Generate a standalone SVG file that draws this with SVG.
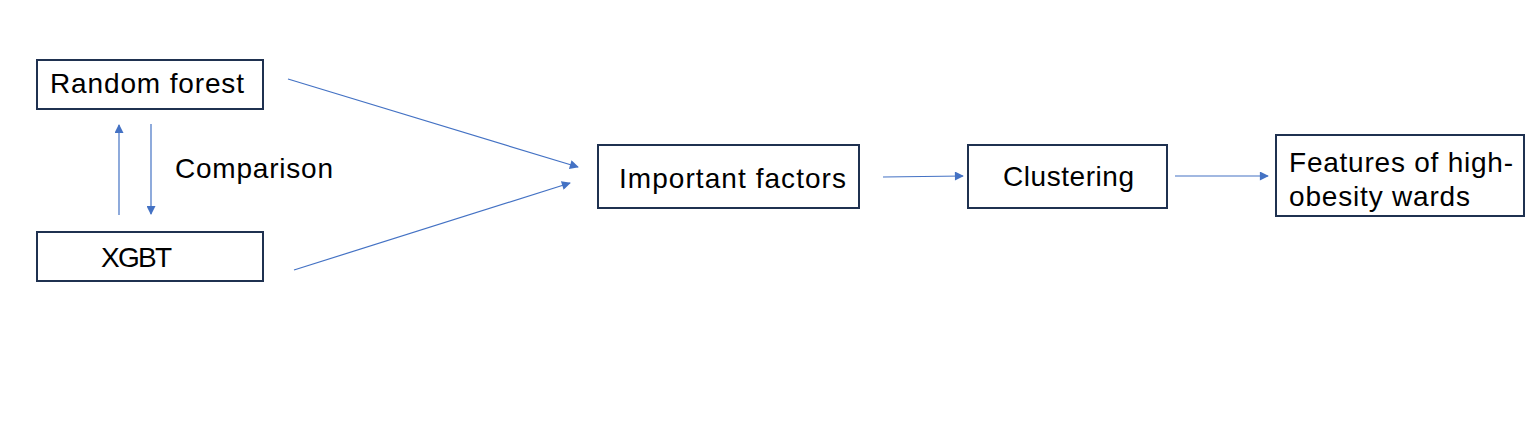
<svg xmlns="http://www.w3.org/2000/svg" width="1539" height="446" viewBox="0 0 1539 446">
<defs>
<style>
.box{fill:#fff;stroke:#1f3150;stroke-width:2}
.lbl{font-family:"Liberation Sans","Noto Sans",sans-serif;font-size:28px;fill:#000}
.con{stroke:#4472c4;stroke-width:1.2;fill:none;marker-end:url(#ah)}
</style>
<marker id="ah" viewBox="0 0 10 10" refX="9" refY="5" markerWidth="10" markerHeight="9" markerUnits="userSpaceOnUse" orient="auto">
<path d="M0,0 L10,5 L0,10 z" fill="#4472c4"/>
</marker>
</defs>
<rect width="1539" height="446" fill="#fff"/>
<g id="connectors">
<line class="con" x1="119" y1="215" x2="119" y2="125"/>
<line class="con" x1="151" y1="124" x2="151" y2="214"/>
<line class="con" x1="288" y1="79" x2="578" y2="167"/>
<line class="con" x1="294" y1="270" x2="570" y2="183"/>
<line class="con" x1="883" y1="177" x2="963" y2="176"/>
<line class="con" x1="1175" y1="176" x2="1268" y2="176"/>
<text class="lbl" x="175" y="178" textLength="158">Comparison</text>
</g>
<g id="random-forest">
<rect class="box" x="37" y="60" width="226" height="49"/>
<text class="lbl" x="50" y="93" textLength="194">Random forest</text>
</g>
<g id="xgbt">
<rect class="box" x="37" y="232" width="226" height="49"/>
<text class="lbl" x="101" y="267" textLength="71">XGBT</text>
</g>
<g id="important-factors">
<rect class="box" x="598" y="145" width="261" height="63"/>
<text class="lbl" x="619" y="188" textLength="227">Important factors</text>
</g>
<g id="clustering">
<rect class="box" x="968" y="145" width="199" height="63"/>
<text class="lbl" x="1003" y="186" textLength="131">Clustering</text>
</g>
<g id="features">
<rect class="box" x="1276" y="135" width="248" height="81"/>
<text class="lbl" x="1289" y="172" textLength="224">Features of high-</text>
<text class="lbl" x="1289" y="206" textLength="181">obesity wards</text>
</g>
</svg>
